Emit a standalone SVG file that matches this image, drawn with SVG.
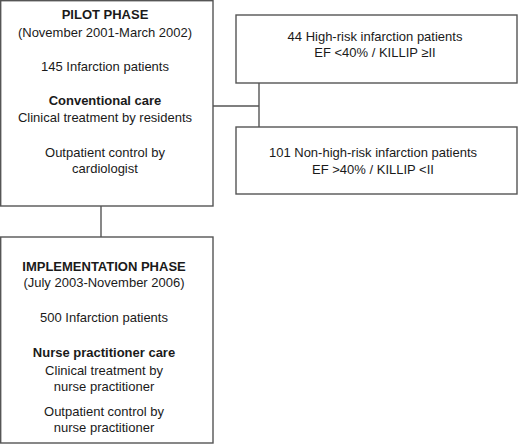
<svg xmlns="http://www.w3.org/2000/svg" width="518" height="444" viewBox="0 0 518 444">
<style>
.box{fill:#fff;stroke:#555;stroke-width:1.4}
.ln{fill:none;stroke:#555;stroke-width:1.4}
text{font-family:"Liberation Sans",Arial,sans-serif;font-size:13px;fill:#1a1a1a;text-anchor:middle}
.b{font-weight:bold}
</style>
<rect width="518" height="444" fill="#fff"/>
<g id="connectors">
<line class="ln" x1="101" y1="206" x2="101" y2="237"/>
<line class="ln" x1="213" y1="106" x2="259" y2="106"/>
<line class="ln" x1="259" y1="83" x2="259" y2="127"/>
</g>
<g id="pilot">
<rect class="box" x="0.7" y="0.7" width="212.3" height="205.3"/>
<text x="105" y="19" class="b">PILOT PHASE</text>
<text x="105" y="37">(November 2001-March 2002)</text>
<text x="105" y="71">145 Infarction patients</text>
<text x="105" y="105" class="b">Conventional care</text>
<text x="105" y="122">Clinical treatment by residents</text>
<text x="105" y="157">Outpatient control by</text>
<text x="105" y="173">cardiologist</text>
</g>
<g id="highrisk">
<rect class="box" x="236" y="15" width="281" height="68"/>
<text x="375" y="41">44 High-risk infarction patients</text>
<text x="375" y="57">EF &lt;40% / KILLIP ≥II</text>
</g>
<g id="nonhighrisk">
<rect class="box" x="236" y="127" width="281" height="67"/>
<text x="373" y="157">101 Non-high-risk infarction patients</text>
<text x="373" y="174">EF &gt;40% / KILLIP &lt;II</text>
</g>
<g id="implementation">
<rect class="box" x="0.7" y="237" width="212.3" height="206"/>
<text x="104" y="271" class="b">IMPLEMENTATION PHASE</text>
<text x="104" y="287">(July 2003-November 2006)</text>
<text x="104" y="322">500 Infarction patients</text>
<text x="104" y="357" class="b">Nurse practitioner care</text>
<text x="104" y="375">Clinical treatment by</text>
<text x="104" y="391">nurse practitioner</text>
<text x="104" y="416">Outpatient control by</text>
<text x="104" y="432">nurse practitioner</text>
</g>
</svg>
